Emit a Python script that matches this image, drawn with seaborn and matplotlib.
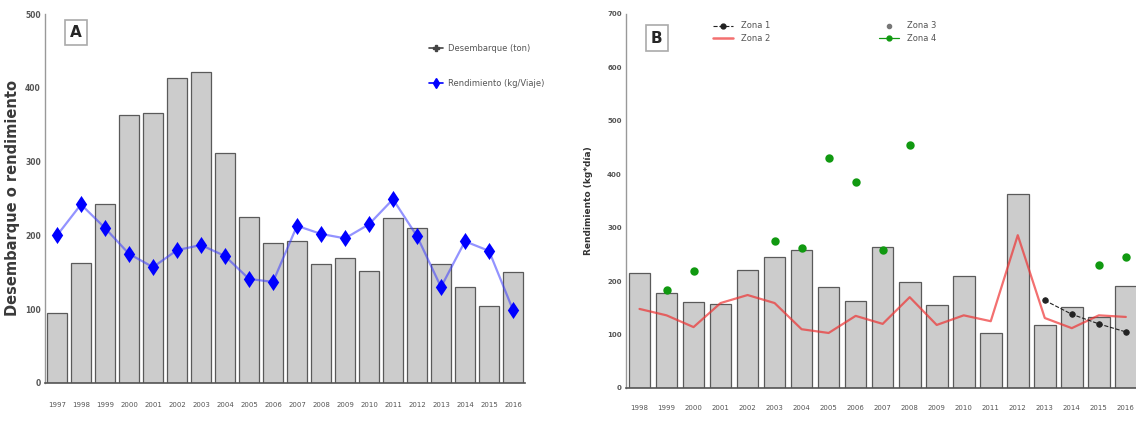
import numpy as np
import pandas as pd
import matplotlib
matplotlib.use("Agg")
import matplotlib.pyplot as plt
from matplotlib.lines import Line2D
import seaborn as sns

# ---------------- data ----------------
years_a = [str(y) for y in range(1997, 2017)]
desembarque = [95, 162, 242, 363, 366, 413, 421, 312, 225, 190,
               192, 161, 169, 152, 224, 210, 161, 130, 104, 150]
rendimiento_a = [200, 242, 210, 175, 157, 180, 187, 172, 141, 137,
                 213, 202, 196, 215, 249, 199, 130, 192, 179, 99]

years_b = [str(y) for y in range(1998, 2017)]
rend_b_bars = [215, 178, 161, 157, 221, 245, 258, 189, 163, 264,
               198, 155, 209, 103, 363, 118, 151, 133, 191]
zona2 = [148, 136, 114, 159, 174, 159, 110, 103, 135, 120,
         170, 118, 136, 125, 286, 131, 112, 136, 133]
zona1_years = ["2013", "2014", "2015", "2016"]
zona1 = [164, 138, 120, 105]
zona3_years = []
zona3 = []
zona4_years = ["1999", "2000", "2003", "2004", "2005", "2006", "2007", "2008", "2015", "2016"]
zona4 = [183, 219, 275, 262, 430, 385, 258, 454, 230, 245]

# ---------------- style ----------------
sns.set_theme(style="white")
plt.rcParams["font.family"] = ["DejaVu Sans"]

fig = plt.figure(figsize=(11.36, 4.22), dpi=100)

W, H = 1136, 422
axA = fig.add_axes([45 / W, (H - 383) / H, 480 / W, 369 / H])
axB = fig.add_axes([626 / W, (H - 388) / H, 512 / W, 374 / H])

bar_fc = "#cccccc"
bar_ec = "#5a5a5a"

# ---------------- Panel A ----------------
dfA = pd.DataFrame({"year": years_a, "des": desembarque, "rend": rendimiento_a})
sns.barplot(data=dfA, x="year", y="des", order=years_a, color=bar_fc,
            edgecolor=bar_ec, linewidth=0.9, width=0.8, saturation=1, ax=axA)
sns.pointplot(data=dfA, x="year", y="rend", order=years_a, color="#3b3bff",
              markers="", linestyles="-", linewidth=1.6, alpha=0.55, ax=axA)
sns.pointplot(data=dfA, x="year", y="rend", order=years_a, color="#0000ff",
              markers="d", markersize=6.5, linestyles="none", ax=axA)

axA.set_ylim(0, 500)
axA.set_xlim(-0.5, 19.5)
axA.set_yticks([0, 100, 200, 300, 400, 500])
axA.set_yticklabels(["0", "100", "200", "300", "400", "500"], fontsize=5.5,
                    color="#555555", fontweight="bold")
axA.set_xticks(range(len(years_a)))
axA.set_xticklabels(years_a, fontsize=5, color="#555555")
axA.tick_params(axis="x", length=2, width=0.6, color="#777777", pad=12)
axA.tick_params(axis="y", length=2, width=0.6, color="#777777", pad=1)
axA.set_xlabel("")
axA.set_ylabel("Desembarque o rendimiento", fontsize=10.5, fontweight="bold",
               color="#3a3a3a", labelpad=4)
for s in ["top", "right"]:
    axA.spines[s].set_visible(False)
axA.spines["left"].set_color("#999999")
axA.spines["bottom"].set_color("#555555")
axA.spines["left"].set_linewidth(1.0)
axA.spines["bottom"].set_linewidth(1.2)

axA.text(0.065, 0.95, "A", transform=axA.transAxes, fontsize=11, fontweight="bold",
         ha="center", va="center",
         bbox=dict(boxstyle="square,pad=0.35", fc="white", ec="#aaaaaa", lw=1.2))

hA = [Line2D([0], [0], color="#444444", marker="P", markersize=4, lw=1.2),
      Line2D([0], [0], color="#0000ff", marker="d", markersize=5, lw=1.2)]
axA.legend(hA, ["Desembarque (ton)", "Rendimiento (kg/Viaje)"], loc="upper left",
           bbox_to_anchor=(0.785, 0.94), frameon=False, fontsize=6,
           labelspacing=3.2, handlelength=1.6, handletextpad=0.6,
           labelcolor="#555555")

# ---------------- Panel B ----------------
dfB = pd.DataFrame({"year": years_b, "bars": rend_b_bars, "z2": zona2})
df1 = pd.DataFrame({"year": zona1_years, "val": zona1})
df4 = pd.DataFrame({"year": zona4_years, "val": zona4})

sns.barplot(data=dfB, x="year", y="bars", order=years_b, color=bar_fc,
            edgecolor=bar_ec, linewidth=0.9, width=0.8, saturation=1, ax=axB)
sns.pointplot(data=dfB, x="year", y="z2", order=years_b, color="#ee3333",
              markers="", linestyles="-", linewidth=1.6, alpha=0.7, ax=axB)
sns.pointplot(data=df1, x="year", y="val", order=years_b, color="#222222",
              markers="o", markersize=4, linestyles="--", linewidth=0.8, ax=axB)
sns.pointplot(data=df4, x="year", y="val", order=years_b, color="#119911",
              markers="o", markersize=4, linestyles="none", ax=axB)

axB.set_ylim(0, 700)
axB.set_xlim(-0.5, 18.45)
axB.set_yticks(range(0, 701, 100))
axB.set_yticklabels([str(v) for v in range(0, 701, 100)], fontsize=5,
                    color="#555555", fontweight="bold")
axB.set_xticks(range(len(years_b)))
axB.set_xticklabels(years_b, fontsize=5, color="#555555")
axB.tick_params(axis="x", length=2, width=0.6, color="#777777", pad=10)
axB.tick_params(axis="y", length=2, width=0.6, color="#777777", pad=1)
axB.set_xlabel("")
axB.set_ylabel("Rendimiento (kg*día)", fontsize=6.5, fontweight="bold",
               color="#333333", labelpad=10)
for s in ["top", "right"]:
    axB.spines[s].set_visible(False)
axB.spines["left"].set_color("#999999")
axB.spines["bottom"].set_color("#555555")
axB.spines["left"].set_linewidth(1.0)
axB.spines["bottom"].set_linewidth(1.2)

axB.text(0.06, 0.935, "B", transform=axB.transAxes, fontsize=11, fontweight="bold",
         ha="center", va="center",
         bbox=dict(boxstyle="square,pad=0.35", fc="white", ec="#aaaaaa", lw=1.2))

hB = [Line2D([0], [0], color="#222222", marker="o", markersize=3.5, lw=0.8, ls="--"),
      Line2D([0], [0], color="#ee3333", lw=1.8, alpha=0.7),
      Line2D([0], [0], color="#777777", marker="o", markersize=3, lw=0),
      Line2D([0], [0], color="#119911", marker="o", markersize=3.5, lw=0.9)]
axB.legend(hB, ["Zona 1", "Zona 2", "Zona 3", "Zona 4"], loc="upper left",
           bbox_to_anchor=(0.155, 1.0), frameon=False, fontsize=6, ncol=2,
           labelspacing=0.4, columnspacing=13, handlelength=2.4,
           handletextpad=1.0, labelcolor="#555555")

fig.savefig("out.png", dpi=100)
